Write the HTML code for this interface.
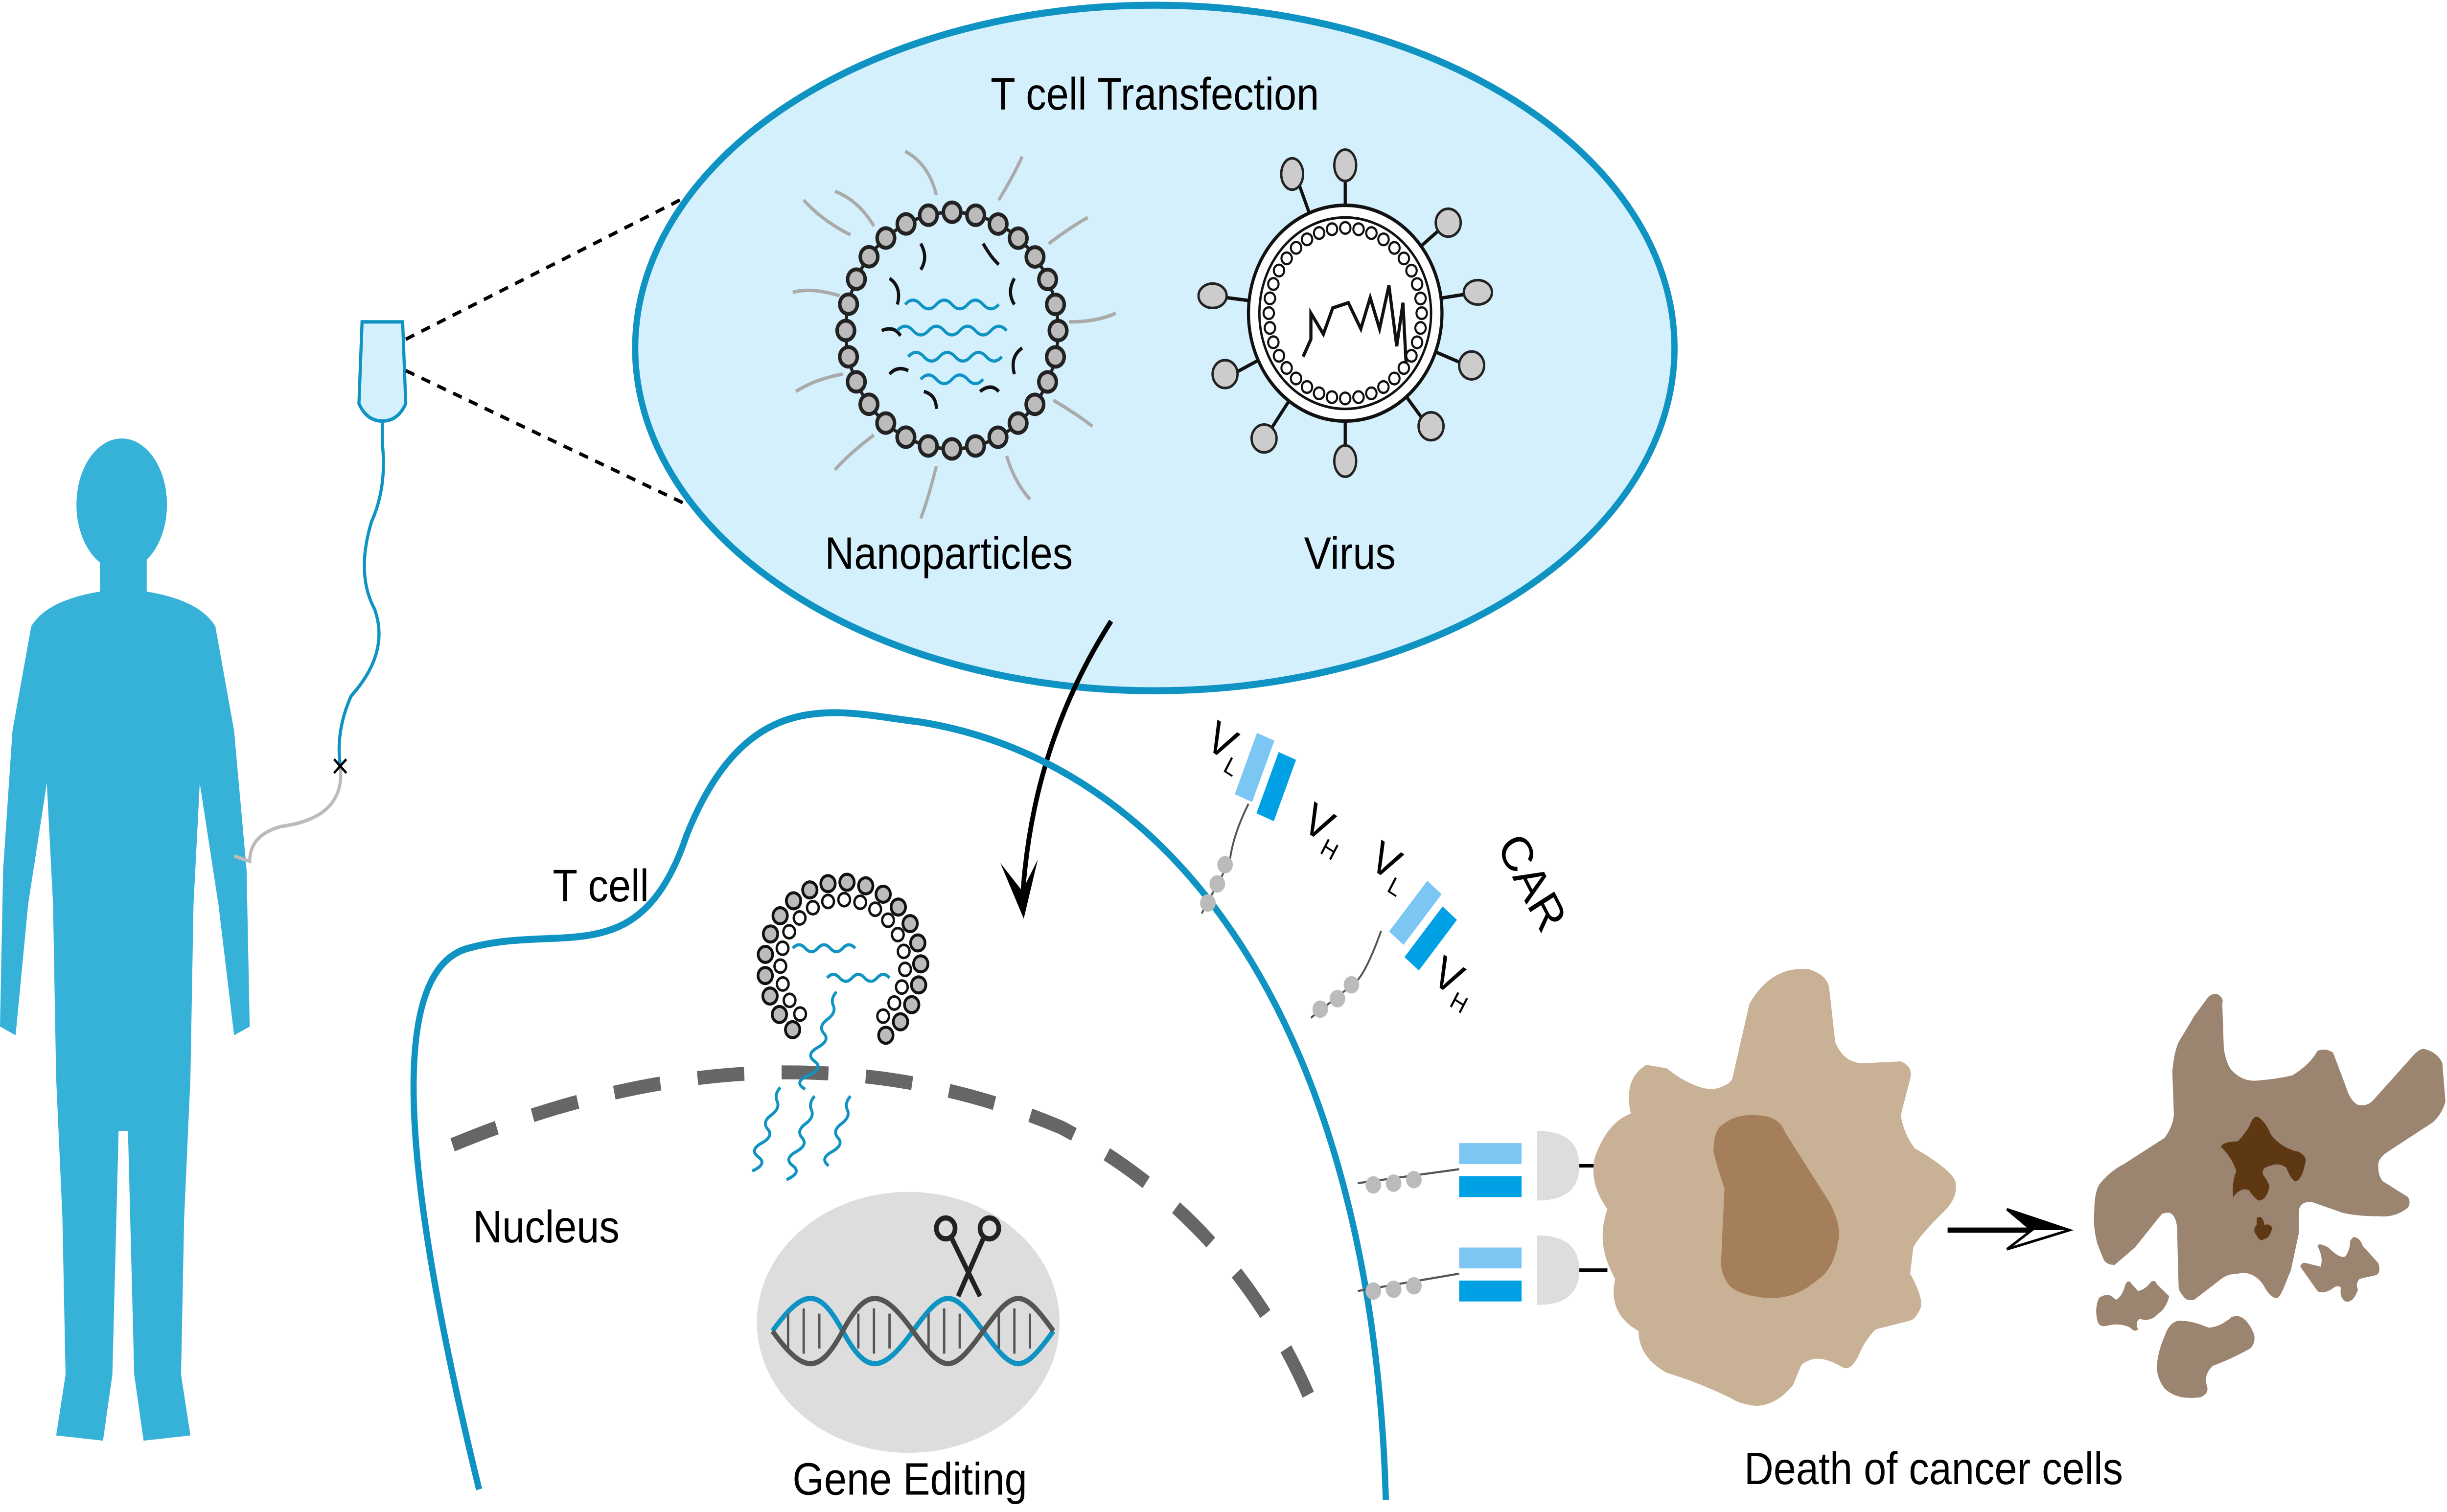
<!DOCTYPE html>
<html><head><meta charset="utf-8"><style>
html,body{margin:0;padding:0;background:#fff;width:100%;height:100%;overflow:hidden}
svg{display:block;position:absolute;left:0;top:0;width:100%;height:100%}
text{font-family:"Liberation Sans",Arial,sans-serif;fill:#000}
</style></head><body>
<svg viewBox="0 0 1568 869" preserveAspectRatio="none" xmlns="http://www.w3.org/2000/svg">
<rect width="1568" height="869" fill="#fff"/>
<!-- human -->
<g fill="#36b1d8">
<ellipse cx="78" cy="290" rx="29" ry="38"/>
<rect x="64" y="320" width="30" height="30"/>
<path d="M20,360 Q30,345 64,340 L94,340 Q128,345 138,360 L150,420 L158,500 L160,590 L150,595 L140,520 L128,450 L124,520 L122,620 L118,700 L116,790 L122,825 L92,828 L86,790 L82,650 L76,650 L72,790 L66,828 L36,825 L42,790 L40,700 L36,620 L34,520 L30,450 L18,520 L10,595 L0,590 L2,500 L8,420 Z"/>
</g>
<!-- IV -->
<path d="M232,185 L258,185 L260,232 Q255,242 245,242 Q235,242 230,232 Z" fill="#d4f0fc" stroke="#0e93c2" stroke-width="2"/>
<path d="M245,242 L245,255 Q248,280 238,300 Q228,330 240,350 Q250,375 225,400 Q215,420 218,440" fill="none" stroke="#0e93c2" stroke-width="2"/>
<path d="M218,440 Q222,470 180,475 Q160,480 160,495 L150,492" fill="none" stroke="#bbb" stroke-width="2"/>
<text x="218" y="447" font-size="20" text-anchor="middle">×</text>
<line x1="260" y1="195" x2="440" y2="113" stroke="#000" stroke-width="2" stroke-dasharray="6 5"/>
<line x1="260" y1="213" x2="440" y2="290" stroke="#000" stroke-width="2" stroke-dasharray="6 5"/>
<!-- big ellipse -->
<ellipse cx="740" cy="200" rx="333" ry="197" fill="#d4f0fc" stroke="#0e93c2" stroke-width="4"/>
<text x="740" y="63" font-size="26" text-anchor="middle">T cell Transfection</text>
<!-- nanoparticle -->
<g stroke="#aaa" stroke-width="2" fill="none">
<path d="M560,130 q-10,-15 -25,-20 M600,112 q-5,-18 -20,-25 M640,115 q10,-15 15,-25 M672,140 q15,-10 25,-15 M685,185 q18,0 30,-5 M675,230 q15,8 25,15 M645,262 q5,15 15,25 M600,268 q-5,18 -10,30 M560,250 q-15,10 -25,20 M540,215 q-18,3 -30,10 M538,170 q-18,-5 -30,-2 M545,135 q-18,-8 -30,-20"/>
</g>
<circle cx="610" cy="190" r="68" fill="none" stroke="#222" stroke-width="2"/>
<circle cx="610" cy="190" r="68" fill="none" stroke="#222" stroke-width="13.5" stroke-dasharray="0 15.26" stroke-linecap="round"/>
<circle cx="610" cy="190" r="68" fill="none" stroke="#bbb" stroke-width="9" stroke-dasharray="0 15.26" stroke-linecap="round"/>
<g stroke="#111" stroke-width="2" fill="none">
<path d="M570,160 q8,5 5,15 M590,140 q5,8 0,15 M630,140 q5,8 10,12 M650,160 q-5,8 0,15 M655,200 q-8,5 -5,15 M640,225 q-5,-5 -12,0 M600,235 q0,-8 -8,-10 M570,215 q5,-5 12,-2 M565,190 q8,-3 12,3"/>
</g>
<g stroke="#0e93c2" stroke-width="1.8" fill="none">
<path d="M580,175 q5,-5 10,0 t10,0 t10,0 t10,0 t10,0 t10,0"/>
<path d="M575,190 q5,-5 10,0 t10,0 t10,0 t10,0 t10,0 t10,0 t10,0"/>
<path d="M582,205 q5,-5 10,0 t10,0 t10,0 t10,0 t10,0 t10,0"/>
<path d="M590,218 q5,-5 10,0 t10,0 t10,0 t10,0"/>
</g>
<text x="608" y="327" font-size="26" text-anchor="middle">Nanoparticles</text>
<!-- virus -->
<g stroke="#111" stroke-width="2">
<line x1="862" y1="180" x2="862" y2="95"/><line x1="862" y1="180" x2="862" y2="265"/>
<line x1="862" y1="180" x2="777" y2="170"/><line x1="862" y1="180" x2="947" y2="168"/>
<line x1="862" y1="180" x2="830" y2="100"/><line x1="862" y1="180" x2="925" y2="130"/>
<line x1="862" y1="180" x2="790" y2="215"/><line x1="862" y1="180" x2="940" y2="210"/>
<line x1="862" y1="180" x2="812" y2="250"/><line x1="862" y1="180" x2="915" y2="245"/>
</g>
<g fill="#ccc" stroke="#222" stroke-width="1.5">
<ellipse cx="862" cy="95" rx="7" ry="9"/><ellipse cx="862" cy="265" rx="7" ry="9"/>
<ellipse cx="777" cy="170" rx="9" ry="7"/><ellipse cx="947" cy="168" rx="9" ry="7"/>
<ellipse cx="828" cy="100" rx="7" ry="9"/><ellipse cx="928" cy="128" rx="8" ry="8"/>
<ellipse cx="785" cy="215" rx="8" ry="8"/><ellipse cx="943" cy="210" rx="8" ry="8"/>
<ellipse cx="810" cy="252" rx="8" ry="8"/><ellipse cx="917" cy="245" rx="8" ry="8"/>
</g>
<circle cx="862" cy="180" r="62" fill="#fff" stroke="#111" stroke-width="2"/>
<circle cx="862" cy="180" r="55" fill="none" stroke="#111" stroke-width="1.5"/>
<circle cx="862" cy="180" r="49" fill="none" stroke="#111" stroke-width="8" stroke-dasharray="0 8.55" stroke-linecap="round"/>
<circle cx="862" cy="180" r="49" fill="none" stroke="#fff" stroke-width="5.4" stroke-dasharray="0 8.55" stroke-linecap="round"/>
<path d="M835,205 l5,-10 l0,-15 l8,12 l6,-15 l10,-3 l8,15 l6,-18 l6,18 l6,-25 l5,35 l4,-25 l2,35" fill="none" stroke="#111" stroke-width="2"/>
<text x="865" y="327" font-size="26" text-anchor="middle">Virus</text>
<!-- arrow -->
<path d="M712,357 Q660,430 655,520" fill="none" stroke="#000" stroke-width="3"/>
<path d="M641,496 L656,528 L665,494 L655,512 Z" fill="#000"/>
<!-- T cell membrane -->
<path d="M307,856 C270,720 238,560 300,545 C360,530 410,560 440,480 C480,390 540,410 590,415 C760,440 880,600 888,862" fill="none" stroke="#0e93c2" stroke-width="4"/>
<text x="385" y="518" font-size="26" text-anchor="middle">T cell</text>
<!-- nucleus -->
<path d="M290,658 Q500,580 680,648 Q790,700 840,805" fill="none" stroke="#666" stroke-width="8" stroke-dasharray="30 24"/>
<text x="350" y="714" font-size="26" text-anchor="middle">Nucleus</text>
<!-- ruptured nanoparticle -->
<path d="M507.9,591.8 A50,48 0 1 1 557.1,600.1" fill="none" stroke="#111" stroke-width="11" stroke-dasharray="0 12.2" stroke-linecap="round"/>
<path d="M507.9,591.8 A50,48 0 1 1 557.1,600.1" fill="none" stroke="#bbb" stroke-width="7.5" stroke-dasharray="0 12.2" stroke-linecap="round"/>
<path d="M512.7,582.8 A40,38 0 1 1 558.2,588.9" fill="none" stroke="#111" stroke-width="9" stroke-dasharray="0 10.4" stroke-linecap="round"/>
<path d="M512.7,582.8 A40,38 0 1 1 558.2,588.9" fill="none" stroke="#fff" stroke-width="6" stroke-dasharray="0 10.4" stroke-linecap="round"/>
<g stroke="#0e93c2" stroke-width="1.8" fill="none">
<path d="M508,545 q4,-4 8,0 t8,0 t8,0 t8,0 t8,0"/>
<path d="M530,562 q4,-4 8,0 t8,0 t8,0 t8,0 t8,0"/>
<path d="M536,570 q-4,4 -2,8 t-4,8 t-2,8 t-4,8 t-2,8 t-4,8 t-2,8"/>
<path d="M500,625 q-4,4 -2,8 t-4,8 t-2,8 t-4,8 t-2,8 t-4,8"/>
<path d="M522,630 q-4,4 -2,8 t-4,8 t-2,8 t-4,8 t-2,8 t-4,8"/>
<path d="M545,630 q-4,4 -2,8 t-4,8 t-2,8 t-4,8 t-2,8"/>
</g>
<!-- gene editing -->
<ellipse cx="582" cy="760" rx="97" ry="75" fill="#ddd"/>
<g fill="none" stroke-width="3">
<path d="M495,765 C515,740 525,740 540,765 S565,790 585,765 S610,740 630,765 S655,790 675,765" stroke="#0e93c2"/>
<path d="M495,765 C515,790 525,790 540,765 S565,740 585,765 S610,790 630,765 S655,740 675,765" stroke="#555"/>
</g>
<g stroke="#555" stroke-width="1.5">
<line x1="505" y1="755" x2="505" y2="775"/><line x1="515" y1="752" x2="515" y2="778"/><line x1="525" y1="755" x2="525" y2="775"/>
<line x1="550" y1="755" x2="550" y2="775"/><line x1="560" y1="752" x2="560" y2="778"/><line x1="570" y1="755" x2="570" y2="775"/>
<line x1="595" y1="755" x2="595" y2="775"/><line x1="605" y1="752" x2="605" y2="778"/><line x1="615" y1="755" x2="615" y2="775"/>
<line x1="640" y1="755" x2="640" y2="775"/><line x1="650" y1="752" x2="650" y2="778"/><line x1="660" y1="755" x2="660" y2="775"/>
</g>
<g stroke="#222" stroke-width="3" fill="none">
<line x1="610" y1="712" x2="628" y2="745"/><line x1="630" y1="712" x2="614" y2="745"/>
<circle cx="606" cy="706" r="6"/><circle cx="634" cy="706" r="6"/>
</g>
<text x="583" y="859" font-size="26" text-anchor="middle">Gene Editing</text>
<!-- CARs on membrane -->
<g transform="rotate(22 810 450)">
<rect x="795" y="425" width="12" height="38" fill="#7cc6f4"/>
<rect x="812" y="430" width="12" height="38" fill="#00a0e4"/>
</g>
<path d="M800,462 Q790,480 788,495 L770,525" fill="none" stroke="#555" stroke-width="1.2"/>
<circle cx="785" cy="497" r="5" fill="#bbb"/><circle cx="780" cy="508" r="5" fill="#bbb"/><circle cx="774" cy="519" r="5" fill="#bbb"/>
<text x="770" y="433" font-size="26" transform="rotate(30 778 433)">V<tspan font-size="14" dy="6">L</tspan></text>
<text x="832" y="480" font-size="26" transform="rotate(30 840 480)">V<tspan font-size="14" dy="6">H</tspan></text>
<g transform="rotate(40 910 535)">
<rect x="895" y="510" width="12" height="38" fill="#7cc6f4"/>
<rect x="912" y="515" width="12" height="38" fill="#00a0e4"/>
</g>
<path d="M885,535 Q875,560 868,565 L840,585" fill="none" stroke="#555" stroke-width="1.2"/>
<circle cx="866" cy="566" r="5" fill="#bbb"/><circle cx="857" cy="574" r="5" fill="#bbb"/><circle cx="846" cy="580" r="5" fill="#bbb"/>
<text x="875" y="502" font-size="26" transform="rotate(30 883 502)">V<tspan font-size="14" dy="6">L</tspan></text>
<text x="915" y="568" font-size="26" transform="rotate(30 923 568)">V<tspan font-size="14" dy="6">H</tspan></text>
<text x="945" y="490" font-size="28" transform="rotate(60 955 500)">CAR</text>
<!-- CARs binding -->
<g>
<line x1="870" y1="680" x2="935" y2="672" stroke="#555" stroke-width="1.2"/>
<circle cx="880" cy="681" r="5" fill="#bbb"/><circle cx="893" cy="680" r="5" fill="#bbb"/><circle cx="906" cy="678" r="5" fill="#bbb"/>
<rect x="935" y="657" width="40" height="12" fill="#7cc6f4"/><rect x="935" y="676" width="40" height="12" fill="#00a0e4"/>
<path d="M985,650 Q1012,650 1012,670 Q1012,690 985,690 Z" fill="#ddd"/>
<line x1="1012" y1="670" x2="1030" y2="670" stroke="#000" stroke-width="2"/>
<line x1="870" y1="742" x2="935" y2="732" stroke="#555" stroke-width="1.2"/>
<circle cx="880" cy="742" r="5" fill="#bbb"/><circle cx="893" cy="741" r="5" fill="#bbb"/><circle cx="906" cy="739" r="5" fill="#bbb"/>
<rect x="935" y="717" width="40" height="12" fill="#7cc6f4"/><rect x="935" y="736" width="40" height="12" fill="#00a0e4"/>
<path d="M985,710 Q1012,710 1012,730 Q1012,750 985,750 Z" fill="#ddd"/>
<line x1="1012" y1="730" x2="1030" y2="730" stroke="#000" stroke-width="2"/>
</g>
<!-- cancer cell -->
<path d="M1068,614 Q1085,626 1098,626 Q1108,624 1110,620 L1121,577 Q1135,555 1159,557 Q1170,560 1172,567 L1176,599 Q1182,612 1196,611 L1218,610 Q1226,613 1224,620 L1218,641 Q1220,652 1227,660 Q1250,672 1253,679 Q1255,688 1246,696 Q1230,710 1226,717 L1224,732 Q1232,745 1231,751 Q1228,758 1224,759 L1202,764 Q1195,770 1191,779 Q1186,788 1181,786 Q1170,780 1162,781 Q1155,783 1154,785 L1149,796 Q1138,808 1125,808 Q1115,807 1110,804 Q1090,795 1068,789 Q1050,780 1050,765 Q1030,755 1035,735 Q1022,715 1030,695 Q1018,680 1022,665 Q1030,645 1045,640 Q1040,620 1055,612 Z" fill="#c8b195"/>
<path d="M1125,641 Q1140,641 1144,651 L1173,692 Q1180,705 1178,713 Q1175,730 1164,736 Q1150,747 1132,746 Q1110,744 1106,736 Q1102,730 1103,722 L1105,683 Q1100,670 1098,662 Q1098,650 1103,647 Q1112,640 1125,641 Z" fill="#a57f5a"/>
<line x1="1248" y1="707" x2="1302" y2="707" stroke="#000" stroke-width="3"/>
<path d="M1286,695 L1326,707 L1286,718 L1302,707 Z" fill="#fff" stroke="#000" stroke-width="1.5"/>
<path d="M1286,695 L1326,707 L1302,707 Z" fill="#000"/>
<!-- dead cell -->
<g fill="#9b8470">
<path d="M1422,572 Q1425,574 1424,577 L1425,603 Q1427,613 1431,616 Q1438,622 1447,621 Q1460,620 1469,618 Q1480,612 1485,604 Q1490,602 1495,605 L1503,624 Q1506,633 1511,635 Q1516,636 1520,633 L1546,607 Q1551,602 1554,603 Q1562,605 1565,611 L1567,633 Q1565,640 1559,645 L1530,662 Q1523,666 1524,671 Q1524,676 1527,679 L1543,688 Q1545,691 1543,694 Q1535,700 1524,699 Q1510,699 1501,697 L1482,691 Q1474,690 1473,696 L1473,709 L1468,730 L1463,741 Q1460,747 1458,746 Q1454,745 1450,738 Q1443,730 1434,732 Q1427,732 1422,736 L1406,747 Q1401,748 1399,745 Q1396,742 1396,739 L1395,705 Q1394,698 1390,697 Q1386,697 1385,698 L1368,717 L1355,727 Q1350,727 1348,724 L1344,715 Q1341,705 1342,696 Q1342,686 1345,681 Q1352,673 1361,669 L1387,654 Q1392,648 1393,641 L1392,616 Q1393,605 1396,599 L1406,584 L1415,573 Q1419,570 1422,572 Z"/>
<path d="M1508,711 Q1512,711 1514,716 L1524,726 Q1526,732 1522,733 L1512,735 Q1509,738 1511,741 Q1508,749 1503,748 Q1499,746 1500,740 Q1498,738 1494,741 Q1488,744 1485,742 L1474,728 Q1475,725 1478,726 L1487,728 Q1489,723 1485,716 Q1486,714 1492,717 Q1500,724 1503,722 Q1506,718 1506,713 Z"/>
<path d="M1345,746 Q1350,743 1353,745 L1356,747 Q1360,745 1362,738 Q1364,735 1366,738 L1370,742 Q1375,741 1378,737 Q1381,735 1382,738 L1390,745 Q1388,752 1383,755 Q1378,760 1371,758 Q1368,760 1370,764 Q1368,766 1365,763 Q1358,760 1350,762 Q1345,763 1344,759 Q1342,752 1345,746 Z"/>
<path d="M1396,759 Q1405,759 1415,763 Q1422,763 1430,757 Q1438,754 1444,766 Q1446,771 1442,775 Q1430,781 1418,785 Q1412,790 1414,796 Q1416,801 1410,803 Q1395,805 1387,798 Q1382,792 1382,785 Q1383,776 1387,768 Q1390,760 1396,759 Z"/>
</g>
<path d="M1447,642 Q1452,645 1455,652 Q1462,660 1473,662 Q1479,665 1477,669 Q1475,678 1471,679 Q1468,678 1465,671 Q1460,668 1455,670 Q1449,671 1450,675 Q1455,681 1454,683 Q1452,690 1447,690 Q1444,688 1441,684 Q1436,682 1431,688 Q1430,680 1433,673 Q1430,665 1423,659 Q1425,656 1434,656 Q1440,650 1442,646 Q1444,641 1447,642 Z" fill="#5e3713"/>
<path d="M1446,700 Q1450,698 1451,704 Q1455,703 1456,706 Q1454,712 1451,712 Q1448,714 1446,710 Q1443,707 1446,704 Z" fill="#5e3713"/>
<text x="1239" y="853" font-size="26" text-anchor="middle">Death of cancer cells</text>
</svg>
</body></html>
